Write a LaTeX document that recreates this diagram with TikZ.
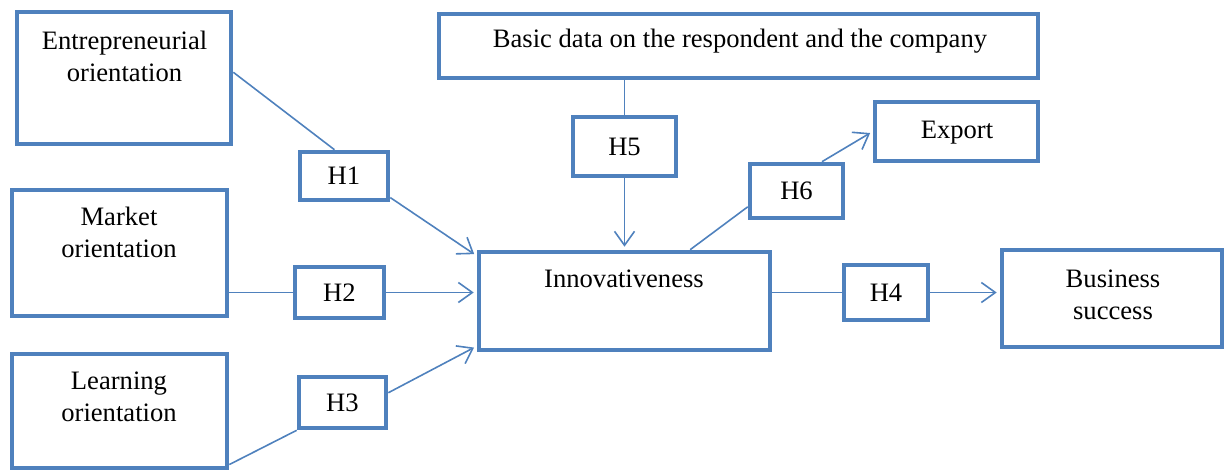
\documentclass[tikz,border=0pt]{standalone}
\usepackage{fontspec}
\setmainfont{Liberation Serif}
\usetikzlibrary{arrows.meta,positioning,calc}
\definecolor{boxBd}{HTML}{4F81BD}
\tikzset{
  box/.style={rectangle, draw=boxBd, line width=2.3pt, fill=white, inner sep=0pt},
  hyp/.style={box, font=\fontsize{13.3}{16}\selectfont},
  lbl/.style={align=center, font=\fontsize{13.3}{16}\selectfont, inner sep=0pt},
  link/.style={draw=boxBd, line width=0.8pt},
  arr/.style={link, -{Straight Barb[length=7pt,width=10pt]}, shorten >=1.5pt}
}

\begin{document}
\begin{tikzpicture}[x=0.5pt,y=-0.5pt]
  \useasboundingbox (0,0) rectangle (1226,475);

  % construct boxes
  \node[box, minimum width=107pt,   minimum height=66pt]   (ent)   at (124,78)      {};
  \node[box, minimum width=107.5pt, minimum height=63pt]   (mkt)   at (119.5,253)   {};
  \node[box, minimum width=107.5pt, minimum height=57pt]   (lrn)   at (119.5,411)   {};
  \node[box, minimum width=299.5pt, minimum height=32pt]   (basic) at (738.5,46)    {};
  \node[box, minimum width=145.5pt, minimum height=49pt]   (inn)   at (624.5,301)   {};
  \node[box, minimum width=110pt,   minimum height=48.5pt] (bus)   at (1112,298.5)  {};
  \node[box, minimum width=81.5pt,  minimum height=29.5pt] (exp)   at (956.5,131.5) {};

  % box texts
  \node[lbl] (entTxt) at (124.5,56)  {Entrepreneurial\\orientation};
  \node[lbl] (mktTxt) at (119,232)   {Market\\orientation};
  \node[lbl] (lrnTxt) at (119,396.5) {Learning\\orientation};
  \node[lbl] (busTxt) at (1113,294.5) {Business\\success};
  \node[lbl, anchor=base] (basicTxt) at (740,48) {Basic data on the respondent and the company};
  \node[lbl, anchor=base] (innTxt)   at (624,288) {Innovativeness};
  \node[lbl, anchor=base] (expTxt)   at (957,139) {Export};

  % hypotheses
  \node[hyp, minimum width=44pt,   minimum height=24pt]   (h1) at (344,176)     {H1};
  \node[hyp, minimum width=44.5pt, minimum height=25.5pt] (h2) at (339.5,292.5) {H2};
  \node[hyp, minimum width=43.5pt, minimum height=25.5pt] (h3) at (342.5,402.5) {H3};
  \node[hyp, minimum width=42pt,   minimum height=27.5pt] (h4) at (886,292.5)   {H4};
  \node[hyp, minimum width=51.5pt, minimum height=29.5pt] (h5) at (624.5,146.5) {H5};
  \node[hyp, minimum width=46.5pt, minimum height=27pt]   (h6) at (796.5,191)   {H6};

  % links into the hypotheses
  \draw[link] (ent.3) -- (h1.110);
  \draw[link] (h2.west -| mkt.east) -- (h2.west);
  \draw[link] (lrn.-26) -- (h3.south west);
  \draw[link] (h5.north |- basic.south) -- (h5.north);
  \draw[link] (inn.38) -- (h6.198);
  \draw[link] (h4.west -| inn.east) -- (h4.west);

  % arrows out of the hypotheses
  \draw[arr] (h1.-25) -- (inn.163);
  \draw[arr] (h2.east) -- (h2.east -| inn.west);
  \draw[arr] (h3.12) -- (inn.197);
  \draw[arr] (h5.south) -- (h5.south |- inn.north);
  \draw[arr] (h6.49) -- (exp.west);
  \draw[arr] (h4.east) -- (h4.east -| bus.west);
\end{tikzpicture}
\end{document}
